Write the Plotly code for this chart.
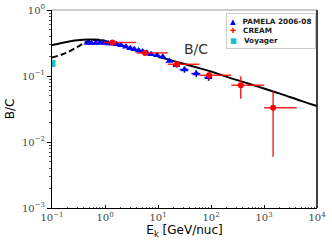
import plotly.graph_objects as go

# Model curves (E_k [GeV/nuc], B/C)
model_E = [0.1, 0.2, 0.3, 0.5, 0.7, 1.0, 2.0, 3.0, 5.0, 10, 20, 50, 100, 200, 500, 1000, 2000, 5000, 10000]
model_BC = [0.294, 0.33, 0.347, 0.357, 0.355, 0.34, 0.295, 0.26, 0.233, 0.197, 0.168, 0.137, 0.117, 0.097, 0.077, 0.0645, 0.054, 0.042, 0.035]

dashed_E = [0.1, 0.15, 0.2, 0.3, 0.4, 0.5, 0.7, 1.0]
dashed_BC = [0.19, 0.21, 0.23, 0.275, 0.315, 0.34, 0.355, 0.34]

# PAMELA 2006-08
pamela_E = [0.467, 0.554, 0.673, 0.80, 0.966, 1.165, 1.38, 1.65, 2.0, 2.49, 3.0, 3.57, 4.31, 5.13, 6.16, 7.40, 9.6, 12.3, 16.4, 22.3, 31.6, 52.7, 90]
pamela_BC = [0.315, 0.315, 0.315, 0.318, 0.315, 0.311, 0.31, 0.304, 0.293, 0.278, 0.264, 0.255, 0.244, 0.235, 0.226, 0.214, 0.207, 0.195, 0.169, 0.146, 0.125, 0.109, 0.0955]
pamela_Eerr = [0.02, 0.025, 0.03, 0.035, 0.04, 0.05, 0.06, 0.07, 0.09, 0.11, 0.13, 0.15, 0.19, 0.23, 0.3, 0.4, 0.6, 1.0, 1.6, 3.0, 6.0, 10.0, 15.0]
pamela_BCerr = [0.006, 0.006, 0.006, 0.006, 0.006, 0.006, 0.006, 0.006, 0.006, 0.006, 0.006, 0.006, 0.006, 0.007, 0.007, 0.007, 0.008, 0.008, 0.009, 0.012, 0.013, 0.013, 0.011]

# CREAM
cream_E = [1.39, 5.7, 22.6, 92, 364, 1486]
cream_BC = [0.322, 0.224, 0.151, 0.1025, 0.0722, 0.033]
cream_Eminus = [0.43, 1.8, 7.3, 31, 122, 482]
cream_Eplus = [2.46, 9.6, 38, 150, 640, 2644]
cream_BCminus = [0.01, 0.01, 0.015, 0.016, 0.027, 0.027]
cream_BCplus = [0.01, 0.01, 0.015, 0.0115, 0.027, 0.026]

# Voyager
voyager_E = [0.1]
voyager_BC = [0.155]

x_ticks = [0.1, 1, 10, 100, 1000, 10000]
x_ticktext = ["10<sup>−1</sup>", "10<sup>0</sup>", "10<sup>1</sup>", "10<sup>2</sup>", "10<sup>3</sup>", "10<sup>4</sup>"]
y_ticks = [0.001, 0.01, 0.1, 1]
y_ticktext = ["10<sup>−3</sup>", "10<sup>−2</sup>", "10<sup>−1</sup>", "10<sup>0</sup>"]

legend_names = ["PAMELA 2006-08", "CREAM", "Voyager"]
legend_colors = ["blue", "red", "#17bfbf"]
legend_glyphs = ["▲", "✚", "■"]

fig = go.Figure()
fig.add_trace(go.Scatter(x=model_E, y=model_BC, mode="lines", line=dict(color="black", width=2, shape="spline"),
                         showlegend=False, hoverinfo="skip"))
fig.add_trace(go.Scatter(x=dashed_E, y=dashed_BC, mode="lines", line=dict(color="black", width=2, dash="6px,3px", shape="spline"),
                         showlegend=False, hoverinfo="skip"))
fig.add_trace(go.Scatter(x=pamela_E, y=pamela_BC, mode="markers", name=legend_names[0], showlegend=False,
                         marker=dict(symbol="triangle-up", color="blue", size=7),
                         error_x=dict(type="data", array=pamela_Eerr, color="blue", thickness=1.5, width=0),
                         error_y=dict(type="data", array=pamela_BCerr, color="blue", thickness=1.5, width=0)))
fig.add_trace(go.Scatter(x=cream_E, y=cream_BC, mode="markers", name=legend_names[1], showlegend=False,
                         marker=dict(symbol="circle", color="red", size=6),
                         error_x=dict(type="data", array=cream_Eplus, arrayminus=cream_Eminus, color="rgba(255,0,0,0.85)", thickness=1.5, width=0),
                         error_y=dict(type="data", array=cream_BCplus, arrayminus=cream_BCminus, color="rgba(255,0,0,0.85)", thickness=1.5, width=0)))
fig.add_trace(go.Scatter(x=voyager_E, y=voyager_BC, mode="markers", name=legend_names[2], showlegend=False,
                         marker=dict(symbol="square", color="#17bfbf", size=7)))

tickfont = dict(family="DejaVu Serif", size=10, color="#444")
fig.update_xaxes(type="log", range=[-1, 4], tickmode="array", tickvals=x_ticks, ticktext=x_ticktext,
                 showline=True, linecolor="black", linewidth=1, mirror=False, showgrid=False, zeroline=False,
                 ticks="inside", ticklen=3, tickcolor="black", tickfont=tickfont, automargin=False,
                 minor=dict(ticks="inside", ticklen=1.5, tickcolor="#555", dtick="D1", showgrid=False),
                 title=dict(text="E<sub>k</sub> [GeV/nuc]", font=dict(family="DejaVu Sans", size=12, color="black"), standoff=2))
fig.update_yaxes(type="log", range=[-3, 0], tickmode="array", tickvals=y_ticks, ticktext=y_ticktext,
                 showline=True, linecolor="black", linewidth=1, mirror=False, showgrid=False, zeroline=False,
                 ticks="outside", ticklen=4, tickcolor="black", tickfont=tickfont, automargin=False,
                 minor=dict(ticks="outside", ticklen=2, tickcolor="#555", dtick="D1", showgrid=False),
                 title=dict(text="B/C", font=dict(family="DejaVu Sans", size=12, color="black"), standoff=4))

fig.add_shape(type="line", xref="paper", yref="paper", x0=0, x1=1, y0=1, y1=1, line=dict(color="#999", width=1))
fig.add_shape(type="line", xref="paper", yref="paper", x0=1, x1=1, y0=0, y1=1, line=dict(color="black", width=1.5))

fig.add_annotation(text="B/C", xref="paper", yref="paper", x=0.545, y=0.853, showarrow=False,
                   font=dict(family="DejaVu Sans", size=14, color="#333"))

legend_lines = []
for g, c, n in zip(legend_glyphs, legend_colors, legend_names):
    legend_lines.append(f"<span style='color:{c}'>{g}</span>\u00a0\u00a0\u00a0<b>{n}</b>")
fig.add_annotation(text="<br>".join(legend_lines), xref="paper", yref="paper", x=0.995, y=0.985,
                   xanchor="right", yanchor="top", align="left", showarrow=False,
                   font=dict(family="DejaVu Sans", size=7.3, color="#222"),
                   bgcolor="white", bordercolor="#ccc", borderwidth=1, borderpad=3)

fig.update_layout(width=332, height=248, margin=dict(l=52, r=15, t=10, b=40),
                  paper_bgcolor="white", plot_bgcolor="white", showlegend=False)

fig.write_html("out.html", config={"displayModeBar": False},
               post_script="document.body.style.margin='0';")
